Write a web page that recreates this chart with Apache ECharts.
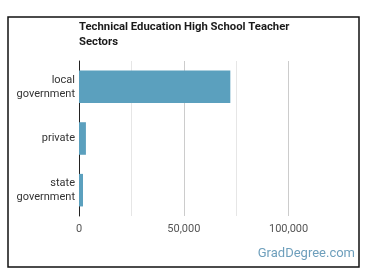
<!DOCTYPE html>
<html>
<head>
<meta charset="utf-8">
<script src="https://cdn.jsdelivr.net/npm/echarts@6/dist/echarts.min.js"></script>
<style>
html,body{margin:0;padding:0;background:#fff;}
#c{width:370px;height:278px;}
</style>
</head>
<body>
<div id="c"></div>
<script>
const titleText = "Technical Education High School Teacher\nSectors";
const categories = ["local\ngovernment", "private", "state\ngovernment"];
const values = [72200, 3300, 1900];
const tickLabels = {0: "0", 50000: "50,000", 100000: "100,000"};
const watermark = "GradDegree.com";

const chart = echarts.init(document.getElementById('c'), null, {renderer: 'canvas'});
chart.setOption({
  animation: false,
  textStyle: {fontFamily: 'Roboto'},
  graphic: [
    {type: 'rect', shape: {x: 8, y: 17, width: 351, height: 250}, style: {fill: 'none', stroke: '#111', lineWidth: 1.5}, z: 10},
    {type: 'text', left: 79, top: 20, style: {text: titleText, font: 'bold 11.3px Roboto', fill: '#1a1a1a', lineHeight: 15}},
    {type: 'text', right: 15, top: 247, style: {text: watermark, font: '13px Roboto', fill: '#6e9fbc'}}
  ],
  grid: {left: 79, right: 29, top: 61, bottom: 62, containLabel: false},
  xAxis: {
    type: 'value', min: 0, max: 125000, interval: 25000,
    axisLine: {show: false}, axisTick: {show: false},
    axisLabel: {
      color: '#555', fontSize: 11, margin: 8,
      formatter: function (v) { return tickLabels[v] !== undefined ? tickLabels[v] : ''; }
    },
    splitLine: {show: true, lineStyle: {color: ['rgba(0,0,0,0)', '#e6e6e6', '#cccccc', '#e6e6e6', '#cccccc', 'rgba(0,0,0,0)'], width: 1}}
  },
  yAxis: {
    type: 'category', data: categories, inverse: true,
    axisLine: {show: true, lineStyle: {color: '#222', width: 1}},
    axisTick: {show: false},
    axisLabel: {color: '#333', fontSize: 11, lineHeight: 14, margin: 4, align: 'right'}
  },
  series: [{
    type: 'bar', data: values, barWidth: '63%',
    itemStyle: {color: '#5ba0be'}
  }]
});
</script>
</body>
</html>
